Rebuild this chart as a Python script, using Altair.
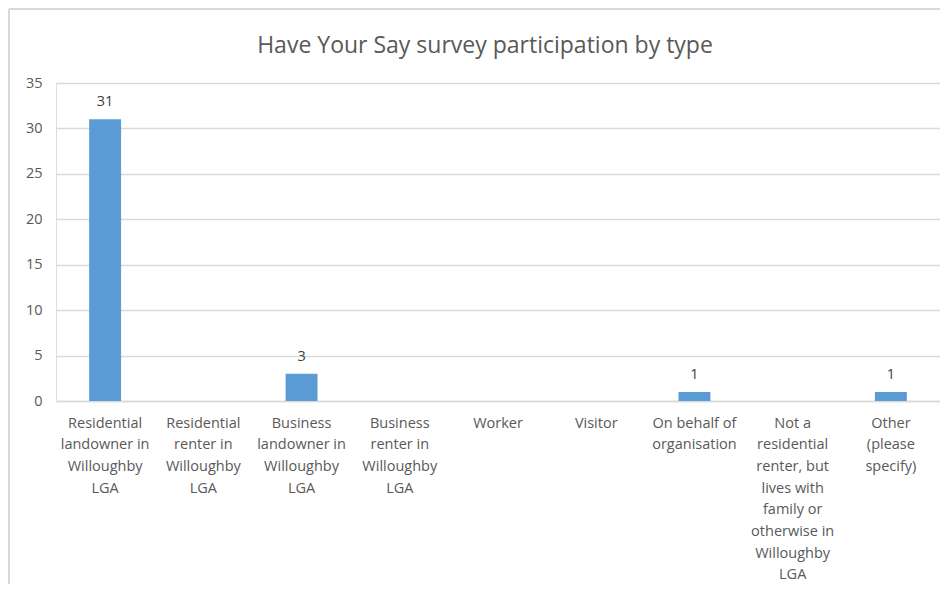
import altair as alt
import pandas as pd

title_text = "Have Your Say survey participation by type"
categories = [
    "Residential landowner in Willoughby LGA",
    "Residential renter in Willoughby LGA",
    "Business landowner in Willoughby LGA",
    "Business renter in Willoughby LGA",
    "Worker",
    "Visitor",
    "On behalf of organisation",
    "Not a residential renter, but lives with family or otherwise in Willoughby LGA",
    "Other (please specify)",
]
values = [31, 0, 3, 0, 0, 0, 1, 0, 1]
label_lines = [
    ["Residential", "landowner in", "Willoughby", "LGA"],
    ["Residential", "renter in", "Willoughby", "LGA"],
    ["Business", "landowner in", "Willoughby", "LGA"],
    ["Business", "renter in", "Willoughby", "LGA"],
    ["Worker"],
    ["Visitor"],
    ["On behalf of", "organisation"],
    ["Not a", "residential", "renter, but", "lives with", "family or", "otherwise in", "Willoughby", "LGA"],
    ["Other", "(please", "specify)"],
]
y_ticks = [0, 5, 10, 15, 20, 25, 30, 35]

df = pd.DataFrame({"category": categories, "value": values})

def js_str(s):
    return "'" + s.replace("'", "\\'") + "'"

obj = "{" + ", ".join(
    js_str(c) + ": [" + ", ".join(js_str(l) for l in lines) + "]"
    for c, lines in zip(categories, label_lines)
) + "}"
label_expr = obj + "[datum.label]"

FONT = "Open Sans"
GRAY = "#595959"
W, H = 884, 318

x_enc = alt.X(
    "category:N",
    sort=categories,
    scale=alt.Scale(paddingInner=0.675, paddingOuter=0.3375),
    axis=alt.Axis(
        title=None,
        labelAngle=0,
        labelExpr=label_expr,
        labelFont=FONT,
        labelFontSize=14.5,
        labelColor=GRAY,
        labelLineHeight=21.7,
        labelBaseline="top",
        labelPadding=15,
        ticks=False,
        domainColor="#d9d9d9",
        domainWidth=1.5,
        labelLimit=200,
    ),
)
y_enc = alt.Y(
    "value:Q",
    scale=alt.Scale(domain=[0, 35]),
    axis=alt.Axis(
        title=None,
        values=y_ticks,
        labelFont=FONT,
        labelFontSize=14.5,
        labelColor=GRAY,
        labelPadding=14,
        ticks=False,
        domain=False,
        gridColor="#d9d9d9",
        gridWidth=1.5,
    ),
)

bars = alt.Chart(df).mark_bar(color="#5B9BD5").encode(x=x_enc, y=y_enc)

text = alt.Chart(df).transform_filter("datum.value > 0").mark_text(
    baseline="bottom", dy=-10, font=FONT, fontSize=14.5, color="#404040"
).encode(x=alt.X("category:N", sort=categories), y="value:Q", text="value:Q")

title = alt.Chart(pd.DataFrame({"t": [title_text]})).mark_text(
    font=FONT, fontSize=23, color=GRAY, align="center", baseline="alphabetic"
).encode(x=alt.value(429), y=alt.value(-30), text="t:N")

border = alt.Chart(df).mark_rule(color="#d9d9d9", strokeWidth=2).encode(
    x=alt.value(-47), x2=alt.value(W + 60), y=alt.value(-74), y2=alt.value(-74)
)
border_left = alt.Chart(df).mark_rule(color="#d9d9d9", strokeWidth=2).encode(
    x=alt.value(-47), x2=alt.value(-47), y=alt.value(-74), y2=alt.value(H + 200)
)

chart = alt.layer(bars, text, title, border, border_left).properties(
    width=W,
    height=H,
    autosize=alt.AutoSizeParams(type="none"),
    padding={"left": 48, "top": 75, "right": 0, "bottom": 183},
).configure_view(stroke=None).configure(background="white")

chart.save("out.html", embed_options={"renderer": "svg", "actions": False})
